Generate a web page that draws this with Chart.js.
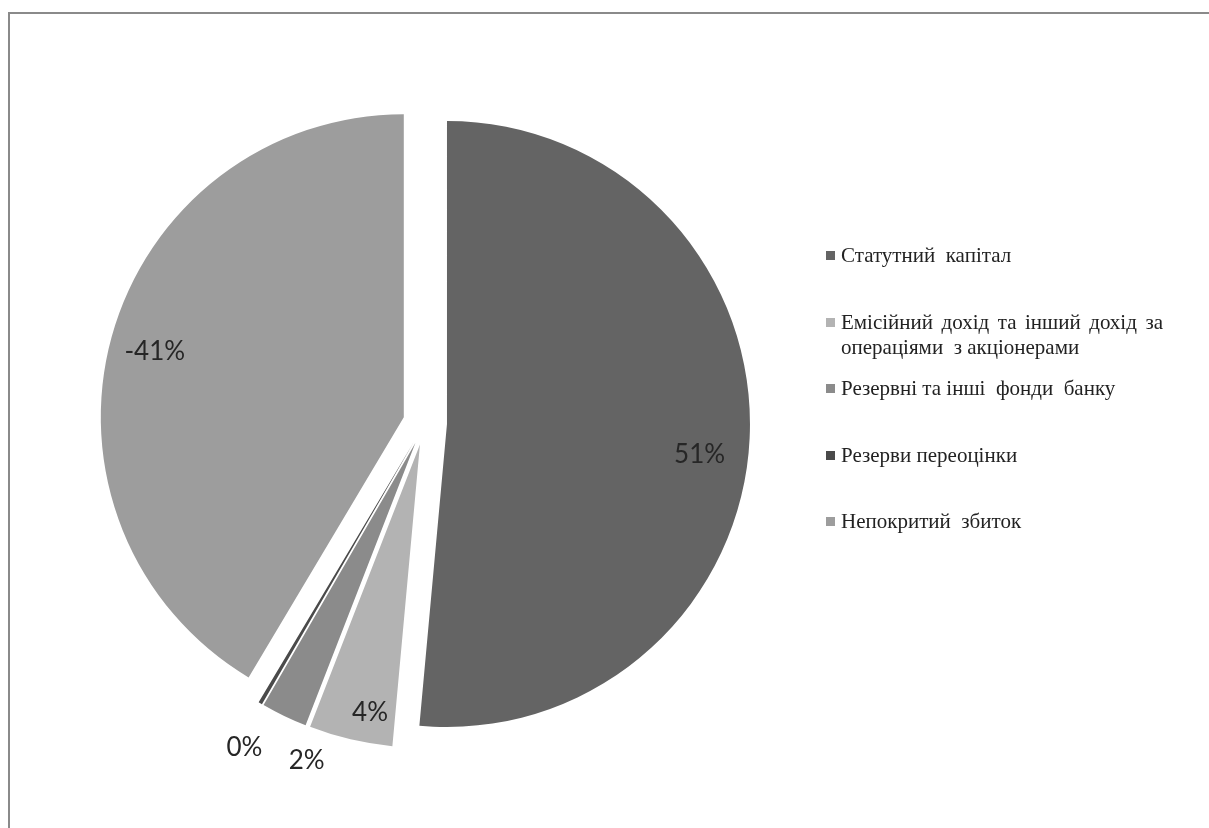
<!DOCTYPE html>
<html>
<head>
<meta charset="utf-8">
<script src="https://cdn.jsdelivr.net/npm/chart.js@4.4.0/dist/chart.umd.min.js"></script>
<style>
  body { margin: 0; background: #fff; }
  #wrap { position: absolute; left: 0; top: 0; width: 1209px; height: 828px; }
  #frame {
    position: absolute; left: 8px; top: 12px; right: 0; bottom: 0;
    border-top: 2px solid #8a8a8a; border-left: 2px solid #8a8a8a;
  }
  #legend { position: absolute; left: 0; top: 0; font-family: "Liberation Serif", serif; font-size: 21px; color: #222; }
  .item { position: absolute; left: 826px; line-height: 25px; white-space: pre; }
  .box { position: absolute; left: 0; top: 8px; width: 9px; height: 9px; }
  .txt { position: absolute; left: 15px; top: 0; }
  .just { width: 322px; text-align: justify; text-align-last: justify; white-space: normal; }
</style>
</head>
<body>
<div id="wrap">
  <div id="frame"></div>
  <canvas id="pieChart"></canvas>
  <div id="legend"></div>
</div>
<script>
// Chart data
const labels = [
  'Статутний капітал',
  'Емісійний дохід та інший дохід за операціями з акціонерами',
  'Резервні та інші фонди банку',
  'Резерви переоцінки',
  'Непокритий збиток',
];
// legend text split into lines, as in the original
const legendLines = [
  ['Статутний  капітал'],
  ['Емісійний  дохід  та інший  дохід  за', 'операціями  з акціонерами'],
  ['Резервні та інші  фонди  банку'],
  ['Резерви переоцінки'],
  ['Непокритий  збиток'],
];
const values = [51.4, 4.45, 2.45, 0.2, -41.4];
const colors = ['#646464', '#b3b3b3', '#8b8b8b', '#4a4a4a', '#9d9d9d'];

// how far each slice is pulled out, and where its label sits
const explodeDist = 22;
const labelRadius = [0.84, 0.9, 1.11, 1.153, 0.85]; // fraction of radius
const labelTurn = [4.4, -2.7, -6.8, -1.45, -0.65]; // degrees from slice middle

const sumAbs = values.reduce((s, v) => s + Math.abs(v), 0);

// Draw exploded slices (same radius for every slice)
const explodePlugin = {
  id: 'explode',
  beforeDatasetDraw(chart, args) {
    const ctx = chart.ctx;
    args.meta.data.forEach((arc) => {
      const mid = (arc.startAngle + arc.endAngle) / 2;
      ctx.save();
      ctx.translate(Math.cos(mid) * explodeDist, Math.sin(mid) * explodeDist);
      arc.draw(ctx);
      ctx.restore();
    });
    return false;
  },
  afterDraw(chart) {
    const ctx = chart.ctx;
    const arcs = chart.getDatasetMeta(0).data;
    ctx.save();
    ctx.font = '26px Lato, sans-serif';
    ctx.fillStyle = '#262626';
    ctx.textAlign = 'center';
    ctx.textBaseline = 'middle';
    arcs.forEach((arc, i) => {
      const mid = (arc.startAngle + arc.endAngle) / 2;
      const cx = arc.x + Math.cos(mid) * explodeDist;
      const cy = arc.y + Math.sin(mid) * explodeDist;
      const a = mid + (labelTurn[i] * Math.PI) / 180;
      const r = arc.outerRadius * labelRadius[i];
      const pct = Math.round((values[i] / sumAbs) * 100);
      ctx.fillText(pct + '%', cx + Math.cos(a) * r, cy + Math.sin(a) * r);
    });
    ctx.restore();
  },
};

const ctx = document.getElementById('pieChart').getContext('2d');
new Chart(ctx, {
  type: 'pie',
  data: {
    labels: labels,
    datasets: [
      {
        data: values.map((v) => Math.abs(v)),
        backgroundColor: colors,
        borderWidth: 0,
      },
    ],
  },
  options: {
    responsive: true,
    maintainAspectRatio: false,
    animation: false,
    radius: 303,
    layout: { padding: { left: 0, right: 359, top: 18, bottom: 0 } },
    plugins: {
      legend: { display: false },
      tooltip: { enabled: false },
    },
  },
  plugins: [explodePlugin],
});

// Legend on the right
const legend = document.getElementById('legend');
legendLines.forEach((lines, i) => {
  const item = document.createElement('div');
  item.className = 'item';
  item.style.top = 243 + i * 66.5 + 'px';
  const box = document.createElement('div');
  box.className = 'box';
  box.style.background = colors[i];
  item.appendChild(box);
  const txt = document.createElement('div');
  txt.className = 'txt';
  lines.forEach((line, j) => {
    const ln = document.createElement('div');
    ln.textContent = line;
    if (lines.length > 1 && j < lines.length - 1) ln.className = 'just';
    txt.appendChild(ln);
  });
  item.appendChild(txt);
  legend.appendChild(item);
});
</script>
</body>
</html>
